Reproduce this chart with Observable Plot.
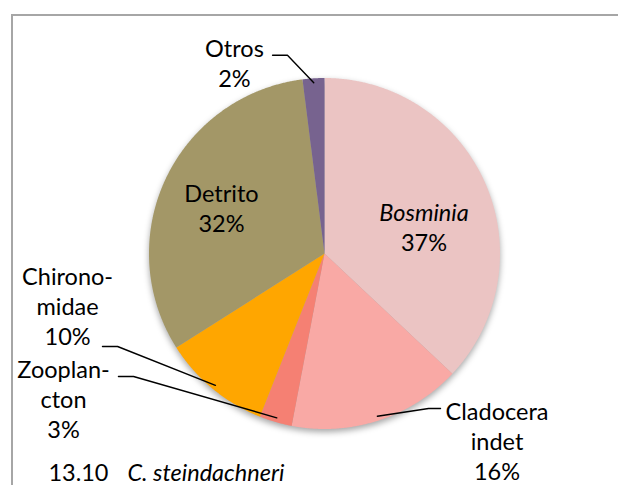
<!DOCTYPE html>
<html><head><meta charset="utf-8">
<script src="https://cdn.jsdelivr.net/npm/d3@7"></script>
<script src="https://cdn.jsdelivr.net/npm/@observablehq/plot@0.6"></script>
<style>
html,body{margin:0;padding:0;background:#fff;overflow:hidden;}
#wrap{position:relative;width:618px;height:485px;overflow:hidden;background:#fff;}
#chart{position:absolute;left:0;top:0;}
#frame{position:absolute;left:11px;top:14px;width:700px;height:600px;border:2px solid #a6a6a6;z-index:2;background:transparent;}
</style></head><body>
<div id="wrap"><div id="chart"></div><div id="frame"></div></div>
<script>
// ---- data ----
const categories = ["Bosminia", "Cladocera indet", "Zooplancton", "Chironomidae", "Detrito", "Otros"];
const values = [37, 16, 3, 10, 32, 2];
const nameLines = [["Bosminia"], ["Cladocera", "indet"], ["Zooplan-", "cton"], ["Chirono-", "midae"], ["Detrito"], ["Otros"]];
const italicCategories = ["Bosminia"];
const titleNumber = "13.10";
const titleSpecies = "C. steindachneri";

// ---- styles / layout ----
const palette = ["#EBC4C3", "#F9A9A5", "#F58073", "#FFA600", "#A39767", "#77638F"];
const CX = 324, CY = 253, R = 175.5;
const FONT = "Lato, 'Open Sans', sans-serif";
const FS = 23.5;
const LH = 0.171; // line height in pie-radius units
// label anchor (center x, first baseline) in pie-radius units; elbow = horizontal leader segment
const labelLayout = {
  "Bosminia": {x: 0.567, y: 0.188},
  "Cladocera indet": {x: 0.983, y: -0.946, elbow: [[0.661, -0.883], [0.593, -0.883]]},
  "Zooplancton": {x: -1.487, y: -0.712, elbow: [[-1.174, -0.701], [-1.088, -0.701]]},
  "Chironomidae": {x: -1.464, y: -0.182, elbow: [[-1.265, -0.530], [-1.179, -0.530]]},
  "Detrito": {x: -0.587, y: 0.291},
  "Otros": {x: -0.513, y: 1.1225, elbow: [[-0.296, 1.13], [-0.211, 1.13]]}
};
const titleLayout = {y: -1.294, xNumber: -1.573, xSpecies: -1.123};

// ---- build ----
const rows = categories.map((name, i) => ({name, value: values[i], lines: nameLines[i].concat([values[i] + "%"])}));
const arcs = d3.pie().sort(null).value(d => d.value)(rows);

const slicePts = arcs.flatMap(p => {
  const name = p.data.name;
  const pts = [{name, x: 0, y: 0}];
  const n = Math.max(4, Math.ceil((p.endAngle - p.startAngle) / 0.005));
  for (let i = 0; i <= n; i++) {
    const a = p.startAngle + (p.endAngle - p.startAngle) * i / n;
    pts.push({name, x: Math.sin(a), y: Math.cos(a)});
  }
  pts.push({name, x: 0, y: 0});
  return pts;
});

const leaderPts = arcs.flatMap(p => {
  const L = labelLayout[p.data.name];
  if (!L.elbow) return [];
  const mid = (p.startAngle + p.endAngle) / 2;
  const rr = 0.975;
  return [
    {name: p.data.name, x: L.elbow[0][0], y: L.elbow[0][1]},
    {name: p.data.name, x: L.elbow[1][0], y: L.elbow[1][1]},
    {name: p.data.name, x: rr * Math.sin(mid), y: rr * Math.cos(mid)}
  ];
});

const textRows = rows.flatMap(r => {
  const L = labelLayout[r.name];
  return r.lines.map((t, i) => ({
    text: t, x: L.x, y: L.y - i * LH,
    italic: italicCategories.includes(r.name) && i < r.lines.length - 1
  }));
});
textRows.push({text: titleNumber, x: titleLayout.xNumber, y: titleLayout.y, italic: false, start: true});
textRows.push({text: titleSpecies, x: titleLayout.xSpecies, y: titleLayout.y, italic: true, start: true});

const chart = Plot.plot({
  width: 618, height: 485,
  marginTop: 0, marginRight: 0, marginBottom: 0, marginLeft: 0,
  style: {background: "transparent", fontFamily: FONT},
  x: {domain: [-1, 1], range: [CX - R, CX + R], axis: null},
  y: {domain: [-1, 1], range: [CY + R, CY - R], axis: null},
  color: {domain: categories, range: palette},
  marks: [
    Plot.line(slicePts, {x: "x", y: "y", z: "name", fill: "name", stroke: "none", curve: "linear"}),
    Plot.line(leaderPts, {x: "x", y: "y", z: "name", stroke: "#000", strokeWidth: 1.4, curve: "linear"}),
    Plot.text(textRows.filter(d => !d.italic && !d.start), {x: "x", y: "y", text: "text", lineAnchor: "bottom", textAnchor: "middle", fontSize: FS, fill: "#000"}),
    Plot.text(textRows.filter(d => d.italic && !d.start), {x: "x", y: "y", text: "text", lineAnchor: "bottom", textAnchor: "middle", fontSize: FS, fontStyle: "italic", fill: "#000"}),
    Plot.text(textRows.filter(d => !d.italic && d.start), {x: "x", y: "y", text: "text", lineAnchor: "bottom", textAnchor: "start", fontSize: FS, fill: "#000"}),
    Plot.text(textRows.filter(d => d.italic && d.start), {x: "x", y: "y", text: "text", lineAnchor: "bottom", textAnchor: "start", fontSize: FS, fontStyle: "italic", fill: "#000"})
  ]
});
const pieG = chart.querySelector('g[aria-label="line"]');
if (pieG) pieG.style.filter = "drop-shadow(0px 3px 3px rgba(0,0,0,0.35))";
document.getElementById("chart").appendChild(chart);
</script>
</body></html>
